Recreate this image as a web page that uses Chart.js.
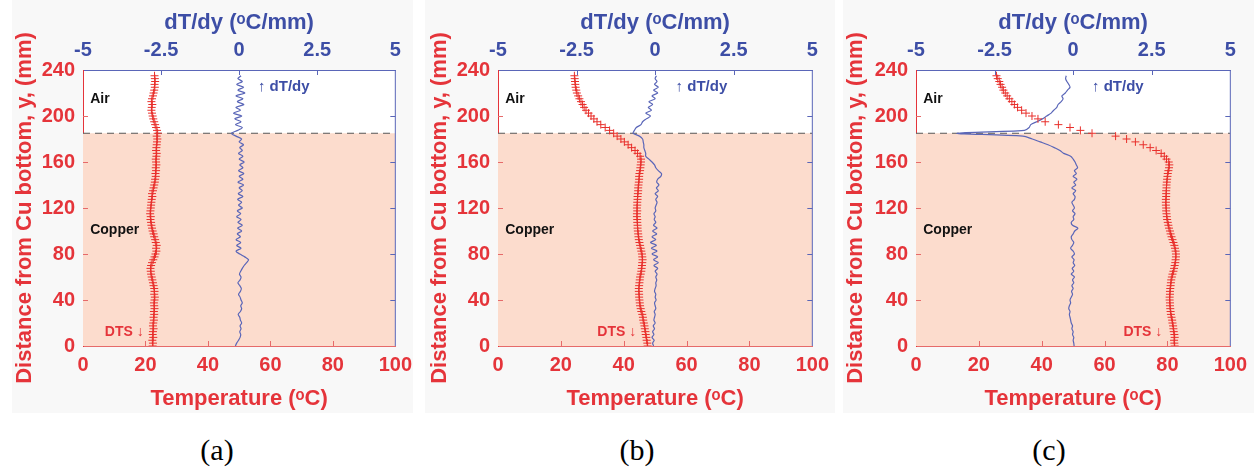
<!DOCTYPE html>
<html>
<head>
<meta charset="utf-8">
<script src="https://cdn.jsdelivr.net/npm/chart.js@4/dist/chart.umd.min.js"></script>
<style>
  body { margin: 0; width: 1256px; height: 474px; background: #fff; position: relative; overflow: hidden; }
  .panel { position: absolute; top: 0; }
  .cap { position: absolute; top: 435px; width: 80px; text-align: center; font: 30px "Liberation Serif", "Times New Roman", serif; line-height: 30px; color: #000; }
</style>
</head>
<body>
<div class="panel" style="left:12px"><canvas id="ca" width="407" height="413"></canvas></div>
<div class="panel" style="left:425px"><canvas id="cb" width="411" height="413"></canvas></div>
<div class="panel" style="left:843px"><canvas id="cc" width="411" height="413"></canvas></div>
<div class="cap" style="left:177px">(a)</div>
<div class="cap" style="left:597px">(b)</div>
<div class="cap" style="left:1009px">(c)</div>
<script>
// distance from Cu bottom (mm), one entry per DTS reading
const yPos = [0, 2.5, 5, 7.5, 10, 12.5, 15, 17.5, 20, 22.5,
  25, 27.5, 30, 32.5, 35, 37.5, 40, 42.5, 45, 47.5,
  50, 52.5, 55, 57.5, 60, 62.5, 65, 67.5, 70, 72.5,
  75, 77.5, 80, 82.5, 85, 87.5, 90, 92.5, 95, 97.5,
  100, 102.5, 105, 107.5, 110, 112.5, 115, 117.5, 120, 122.5,
  125, 127.5, 130, 132.5, 135, 137.5, 140, 142.5, 145, 147.5,
  150, 152.5, 155, 157.5, 160, 162.5, 165, 167.5, 170, 172.5,
  175, 177.5, 180, 182.5, 185, 187.5, 190, 192.5, 195, 197.5,
  200, 202.5, 205, 207.5, 210, 212.5, 215, 217.5, 220, 222.5,
  225, 227.5, 230, 232.5, 235];

// temperature (degC)
const tempA = [22.3, 22.4, 22.2, 22.5, 22.3, 22.4, 22.6, 22.4, 22.5, 22.7,
  22.6, 22.8, 22.7, 22.9, 22.8, 22.7, 22.9, 23.0, 22.8, 22.9,
  22.8, 22.6, 22.4, 22.2, 22.0, 21.8, 21.7, 21.6, 21.8, 22.1,
  22.5, 22.9, 23.2, 23.5, 23.4, 23.6, 23.3, 23.1, 22.8, 22.6,
  22.3, 22.1, 21.9, 21.8, 21.6, 21.7, 21.5, 21.6, 21.7, 21.8,
  21.9, 22.0, 22.2, 22.1, 22.4, 22.6, 22.8, 23.0, 23.1, 23.3,
  23.2, 23.4, 23.3, 23.5, 23.4, 23.3, 23.5, 23.6, 23.4, 23.5,
  23.6, 23.7, 23.8, 23.6, 23.9, 23.7, 23.4, 23.1, 22.8, 22.5,
  22.3, 22.1, 21.9, 22.0, 22.2, 21.9, 22.1, 22.4, 22.6, 22.8,
  23.0, 22.9, 23.1, 23.0, 22.9];
const tempB = [47.6, 47.5, 47.3, 47.2, 47.0, 46.9, 46.7, 46.6, 46.4, 46.2,
  46.1, 45.9, 45.6, 45.4, 45.2, 45.1, 45.0, 44.9, 44.9, 44.8,
  44.8, 44.9, 45.0, 45.1, 45.2, 45.4, 45.6, 45.7, 45.8, 45.9,
  46.0, 45.9, 45.8, 45.6, 45.4, 45.2, 45.0, 44.8, 44.7, 44.6,
  44.5, 44.4, 44.4, 44.3, 44.3, 44.2, 44.2, 44.3, 44.2, 44.3,
  44.3, 44.4, 44.4, 44.5, 44.6, 44.6, 44.7, 44.8, 44.9, 44.9,
  45.0, 45.2, 45.3, 45.4, 45.5, 45.5, 45.2, 44.4, 43.6, 42.5,
  41.4, 40.2, 39.1, 37.9, 36.8, 35.5, 34.1, 32.7, 31.5, 30.5,
  29.6, 28.8, 28.0, 27.4, 26.9, 26.4, 25.9, 25.5, 25.1, 24.9,
  24.7, 24.6, 24.5, 24.4, 24.3];
const tempC = [82.3, 82.2, 82.1, 82.3, 82.2, 82.0, 81.9, 81.8, 81.6, 81.5,
  81.3, 81.1, 81.0, 80.9, 80.8, 80.8, 80.7, 80.7, 80.8, 80.8,
  80.9, 81.0, 81.1, 81.2, 81.4, 81.6, 81.9, 82.1, 82.3, 82.5,
  82.6, 82.7, 82.7, 82.6, 82.4, 82.2, 81.9, 81.6, 81.3, 81.0,
  80.8, 80.5, 80.3, 80.1, 79.9, 79.8, 79.7, 79.6, 79.6, 79.5,
  79.5, 79.5, 79.6, 79.6, 79.6, 79.7, 79.7, 79.8, 79.9, 80.0,
  80.1, 80.3, 80.5, 80.6, 80.4, 79.7, 79.0, 78.0, 76.4, 74.5,
  72.3, 69.8, 67.0, 63.5, 56.0, 52.3, 49.0, 45.3, 41.1, 38.8,
  36.9, 35.0, 33.6, 32.3, 31.3, 30.5, 29.7, 29.0, 28.4, 27.8,
  27.4, 26.9, 26.5, 26.0, 25.6];

// temperature gradient dT/dy (degC/mm)
const gradA = [-0.12, -0.08, -0.02, 0.03, 0.05, 0.02, 0.06, 0.03, 0.08, 0.04,
  0.02, -0.03, 0.04, 0.08, 0.05, 0.10, 0.06, 0.03, -0.02, 0.04,
  0.07, 0.02, -0.04, 0.03, 0.06, 0.01, 0.05, 0.10, 0.16, 0.24,
  0.30, 0.18, 0.02, -0.10, 0.06, -0.08, 0.05, -0.10, 0.04, -0.06,
  0.08, -0.05, 0.10, -0.04, 0.06, -0.08, 0.05, -0.06, 0.10, -0.02,
  0.08, -0.05, 0.12, -0.03, 0.10, 0.00, 0.14, -0.04, 0.12, 0.00,
  0.15, -0.02, 0.12, 0.02, 0.16, 0.00, 0.12, -0.02, 0.10, 0.02,
  0.14, 0.00, 0.08, -0.10, -0.25, -0.05, 0.10, -0.12, 0.06, -0.14,
  0.08, -0.18, 0.04, -0.10, 0.15, -0.06, 0.12, -0.10, 0.18, -0.04,
  0.14, -0.08, 0.10, -0.04, 0.06];
const gradB = [-0.05, -0.08, -0.03, -0.10, -0.04, -0.08, -0.02, -0.06, 0.00, -0.04,
  -0.02, 0.00, -0.03, 0.02, 0.00, -0.02, 0.03, 0.00, 0.02, -0.02,
  0.00, 0.03, 0.02, 0.05, 0.02, 0.06, 0.00, 0.08, -0.04, 0.10,
  -0.05, 0.08, -0.10, 0.06, -0.12, 0.04, -0.15, 0.02, -0.10, 0.05,
  -0.08, 0.06, -0.05, 0.02, -0.03, 0.00, -0.04, 0.02, 0.00, 0.03,
  0.06, 0.02, 0.08, 0.00, 0.10, 0.04, 0.12, 0.05, 0.08, 0.18,
  0.20, 0.10, 0.02, -0.02, -0.10, -0.20, -0.30, -0.30, -0.33, -0.36,
  -0.36, -0.38, -0.40, -0.50, -0.70, -0.66, -0.60, -0.45, -0.40, -0.28,
  -0.15, -0.30, -0.12, -0.22, -0.08, -0.20, 0.00, -0.10, 0.08, -0.05,
  0.10, -0.02, 0.06, 0.00, 0.04];
const gradC = [0.03, 0.02, 0.00, 0.02, -0.02, 0.00, -0.04, -0.02, -0.06, -0.08,
  -0.10, -0.12, -0.10, -0.14, -0.12, -0.08, -0.10, -0.06, -0.02, -0.05,
  0.00, -0.04, 0.02, -0.02, 0.04, -0.06, 0.02, -0.03, 0.05, 0.00,
  0.03, -0.04, 0.04, 0.00, -0.08, -0.02, 0.02, -0.04, -0.06, 0.00,
  0.05, 0.15, -0.02, -0.06, 0.02, 0.00, 0.06, -0.02, 0.04, 0.00,
  -0.04, 0.04, 0.06, 0.00, 0.08, -0.04, 0.08, 0.02, 0.12, 0.00,
  0.10, 0.04, 0.14, 0.10, 0.06, 0.00, -0.08, -0.30, -0.42, -0.60,
  -0.80, -1.05, -1.30, -1.60, -3.70, -1.55, -1.40, -1.35, -1.16, -0.98,
  -0.84, -0.70, -0.62, -0.52, -0.48, -0.38, -0.32, -0.36, -0.25, -0.18,
  -0.10, -0.14, -0.20, -0.24, -0.22];

// copper / air interface (mm)
const interfaceY = 185;

const RED = '#e5343a';
const RED_AXIS = '#e66a6a';
const BLUE = '#3d4ea6';
const BLUE_LINE = '#5a66b8';
const FONT = '"Liberation Sans", Arial, sans-serif';

const panelDeco = {
  id: 'panelDeco',
  beforeDraw(chart, args, opts) {
    const { ctx, chartArea: a, height } = chart;
    ctx.save();
    ctx.fillStyle = '#f8f8f8';
    ctx.fillRect(0, 0, opts.bgWidth, height);
    ctx.fillStyle = '#ffffff';
    ctx.fillRect(a.left, a.top, a.right - a.left, a.bottom - a.top);
    ctx.restore();
  },
  afterDraw(chart, args, opts) {
    const { ctx, chartArea: a, scales } = chart;
    const x = scales.x, x2 = scales.x2, y = scales.y;
    ctx.save();
    ctx.lineWidth = 1;
    // right frame
    ctx.strokeStyle = BLUE_LINE;
    ctx.beginPath();
    ctx.moveTo(a.right, a.top);
    ctx.lineTo(a.right, a.bottom);
    ctx.stroke();
    // inward ticks
    const tl = 5;
    [40, 80, 120, 160, 200].forEach(v => {
      const py = Math.round(y.getPixelForValue(v)) + 0.5;
      ctx.strokeStyle = RED_AXIS;
      ctx.beginPath(); ctx.moveTo(a.left, py); ctx.lineTo(a.left + tl, py); ctx.stroke();
      ctx.strokeStyle = BLUE_LINE;
      ctx.beginPath(); ctx.moveTo(a.right, py); ctx.lineTo(a.right - tl, py); ctx.stroke();
    });
    [20, 40, 60, 80].forEach(v => {
      const px = Math.round(x.getPixelForValue(v)) + 0.5;
      ctx.strokeStyle = RED_AXIS;
      ctx.beginPath(); ctx.moveTo(px, a.bottom); ctx.lineTo(px, a.bottom - tl); ctx.stroke();
    });
    [-2.5, 0, 2.5].forEach(v => {
      const px = Math.round(x2.getPixelForValue(v)) + 0.5;
      ctx.strokeStyle = BLUE_LINE;
      ctx.beginPath(); ctx.moveTo(px, a.top); ctx.lineTo(px, a.top + tl); ctx.stroke();
    });
    // region and curve labels
    ctx.font = 'bold 14px ' + FONT;
    ctx.textBaseline = 'middle';
    ctx.textAlign = 'left';
    ctx.fillStyle = '#111';
    ctx.fillText('Air', x.getPixelForValue(2.3), y.getPixelForValue(215));
    ctx.fillText('Copper', x.getPixelForValue(2.3), y.getPixelForValue(101));
    ctx.fillStyle = BLUE;
    ctx.font = 'bold 15px ' + FONT;
    ctx.fillText('\u2191 dT/dy', x.getPixelForValue(opts.gradLabelX), y.getPixelForValue(225));
    ctx.fillStyle = RED;
    ctx.font = 'bold 14px ' + FONT;
    ctx.fillText('DTS \u2193', x.getPixelForValue(opts.dtsLabelX), y.getPixelForValue(12));
    ctx.restore();
  }
};

function makeChart(id, temp, grad, p) {
  const tickFont = { family: FONT, size: 20, weight: 'bold' };
  const titleFont = { family: FONT, size: 22, weight: 'bold', lineHeight: 1.2 };
  return new Chart(document.getElementById(id), {
    type: 'line',
    data: {
      datasets: [
        {
          label: 'DTS',
          data: temp.map((t, i) => ({ x: t, y: yPos[i] })),
          xAxisID: 'x',
          showLine: false,
          pointStyle: 'cross',
          pointRadius: 4,
          borderWidth: 1,
          borderColor: '#e8302c',
          order: 1
        },
        {
          label: 'dT/dy',
          data: grad.map((g, i) => ({ x: g, y: yPos[i] })),
          xAxisID: 'x2',
          borderColor: BLUE_LINE,
          borderWidth: 1.2,
          pointRadius: 0,
          tension: 0.3,
          fill: false,
          order: 2
        },
        {
          label: 'Copper',
          data: [{ x: 0, y: interfaceY }, { x: 100, y: interfaceY }],
          xAxisID: 'x',
          borderColor: '#555',
          borderWidth: 1,
          borderDash: [7, 5],
          backgroundColor: '#fcdccd',
          fill: 'origin',
          pointRadius: 0,
          order: 3
        }
      ]
    },
    options: {
      responsive: false,
      animation: false,
      layout: { padding: 0 },
      plugins: {
        legend: { display: false },
        tooltip: { enabled: false },
        panelDeco: { gradLabelX: p.gradLabelX, dtsLabelX: p.dtsLabelX, bgWidth: p.bgWidth }
      },
      scales: {
        x: {
          type: 'linear', position: 'bottom', min: 0, max: 100,
          ticks: { stepSize: 20, color: RED, font: tickFont, padding: 7, maxRotation: 0 },
          grid: { drawOnChartArea: false, drawTicks: false },
          border: { color: RED_AXIS, width: 1 },
          title: { display: true, text: 'Temperature (\u1d52C)', color: RED, font: titleFont, padding: { top: 0, bottom: 1 } },
          afterFit: s => { s.height = 67; }
        },
        x2: {
          type: 'linear', position: 'top', min: -5, max: 5,
          ticks: { stepSize: 2.5, color: BLUE, font: tickFont, padding: 8, maxRotation: 0 },
          grid: { drawOnChartArea: false, drawTicks: false },
          border: { color: BLUE_LINE, width: 1 },
          title: { display: true, text: 'dT/dy (\u1d52C/mm)', color: BLUE, font: titleFont, padding: { top: 10, bottom: 0 } },
          afterFit: s => { s.height = 70; }
        },
        y: {
          type: 'linear', position: 'left', min: 0, max: 240,
          ticks: { stepSize: 40, color: RED, font: tickFont, padding: 8 },
          grid: { drawOnChartArea: false, drawTicks: false },
          border: { color: RED, width: 1 },
          title: { display: true, text: 'Distance from Cu bottom, y, (mm)', color: RED, font: titleFont, padding: { top: p.yTitlePad, bottom: 0 } },
          afterFit: s => { s.width = p.yWidth; }
        }
      }
    },
    plugins: [panelDeco]
  });
}

makeChart('ca', tempA, gradA, { yWidth: 71, bgWidth: 401, yTitlePad: 0, gradLabelX: 56, dtsLabelX: 7 });
makeChart('cb', tempB, gradB, { yWidth: 73, bgWidth: 410, yTitlePad: 2, gradLabelX: 56.5, dtsLabelX: 31.6 });
makeChart('cc', tempC, gradC, { yWidth: 73, bgWidth: 411, yTitlePad: 0, gradLabelX: 56, dtsLabelX: 66 });
</script>
</body>
</html>
